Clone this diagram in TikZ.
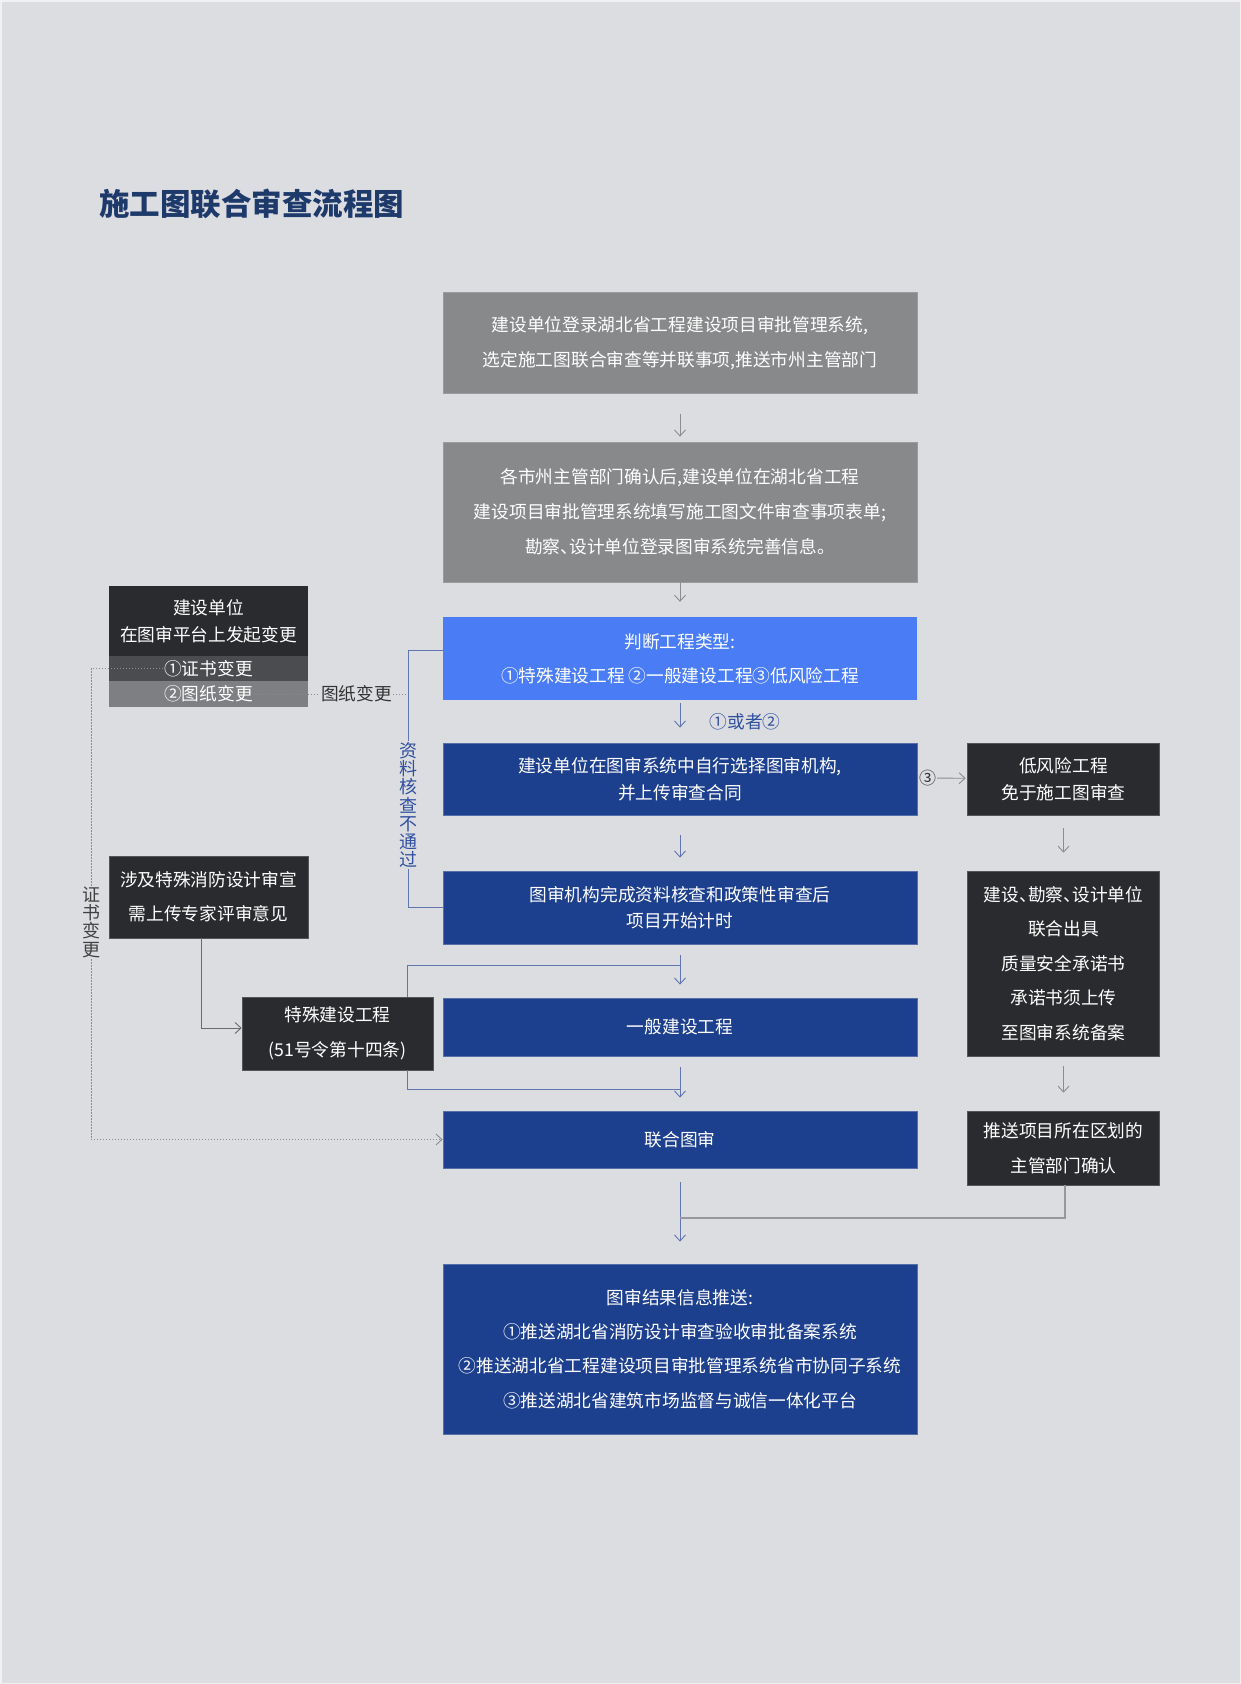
\documentclass[tikz,border=0pt]{standalone}
\usepackage{fontspec}
\setmainfont{Noto Sans CJK SC}
\newfontfamily\halfp[RawFeature=+halt]{Noto Sans CJK SC}
\newcommand{\dun}{{\halfp 、}}
\usetikzlibrary{arrows.meta}
\definecolor{bg}{HTML}{DCDDE1}
\definecolor{gbox}{HTML}{88898B}
\definecolor{lblue}{HTML}{4A7DF5}
\definecolor{navy}{HTML}{1C3F8E}
\definecolor{dbox}{HTML}{2A2B2E}
\definecolor{rowa}{HTML}{4B4C4F}
\definecolor{rowb}{HTML}{7E7F82}
\definecolor{titlec}{HTML}{1E3A6B}
\definecolor{labc}{HTML}{2F4F9F}
\definecolor{bline}{HTML}{6076AE}
\definecolor{gline}{HTML}{8C8D90}
\definecolor{dline}{HTML}{6A6B6E}
\begin{document}
\begin{tikzpicture}[x=1pt,y=-1pt,
  box/.style={rectangle, inner sep=0pt, minimum width=474pt, text=white, align=center,
    font=\fontsize{17.7}{35}\selectfont},
  gbx/.style={box, fill=gbox, draw=gbox!85!white, line width=0.8pt},
  lbx/.style={box, fill=lblue},
  nbx/.style={box, fill=navy, draw=navy!75!white, line width=0.8pt},
  dbx/.style={rectangle, inner sep=0pt, text=white, align=center, fill=dbox,
    draw=dbox!80!white, line width=0.6pt, font=\fontsize{17.7}{35}\selectfont},
  tip/.style={-{Straight Barb[length=6pt,width=11pt,line width=0.9pt]}},
  garr/.style={tip, draw=gline, line width=0.9pt},
  barr/.style={tip, draw=bline, line width=0.9pt},
  bln/.style={draw=bline, line width=0.9pt},
  gln/.style={draw=gline!90!white, line width=1.2pt},
  dotln/.style={draw=gline, line width=0.9pt, dash pattern=on 1.2pt off 1.8pt},
  vtxt/.style={fill=bg, inner sep=1pt, align=center, font=\fontsize{18}{18.3}\selectfont}
]
\useasboundingbox (0,0) rectangle (1241,1684);
\fill[bg] (0,0) rectangle (1241,1684);
\draw[draw=white!60!bg, line width=1.5pt] (0.75,0.75) rectangle (1240.25,1683.25);

% title
\node[anchor=west, text=titlec, inner sep=0pt, font=\fontsize{30.5}{34}\selectfont\bfseries] (title) at (99,204) {施工图联合审查流程图};

% main column
\node[gbx, minimum height=101pt] (b1) at (680,343) {建设单位登录湖北省工程建设项目审批管理系统,\\选定施工图联合审查等并联事项,推送市州主管部门};
\node[gbx, minimum height=140pt] (b2) at (680,512) {各市州主管部门确认后,建设单位在湖北省工程\\建设项目审批管理系统填写施工图文件审查事项表单;\\勘察\dun 设计单位登录图审系统完善信息。};
\node[lbx, minimum height=83pt, font=\fontsize{17.7}{34}\selectfont] (b3) at (680,658.5) {判断工程类型:\\①特殊建设工程 ②一般建设工程③低风险工程};
\node[nbx, minimum height=72pt, font=\fontsize{17.7}{27}\selectfont] (b4) at (680,779) {建设单位在图审系统中自行选择图审机构,\\并上传审查合同};
\node[nbx, minimum height=73pt, font=\fontsize{17.7}{26}\selectfont] (b5) at (680,907.5) {图审机构完成资料核查和政策性审查后\\项目开始计时};
\node[nbx, minimum height=58pt] (b6) at (680,1027) {一般建设工程};
\node[nbx, minimum height=57pt] (b7) at (680,1139.5) {联合图审};
\node[nbx, minimum height=170pt, font=\fontsize{17.7}{34.3}\selectfont] (b8) at (680,1349) {图审结果信息推送:\\①推送湖北省消防设计审查验收审批备案系统\\②推送湖北省工程建设项目审批管理系统省市协同子系统\\③推送湖北省建筑市场监督与诚信一体化平台};

% right column
\node[dbx, minimum width=192pt, minimum height=72pt, font=\fontsize{17.7}{27}\selectfont] (r1) at (1063.5,779) {低风险工程\\免于施工图审查};
\node[dbx, minimum width=192pt, minimum height=185pt, font=\fontsize{17.7}{34.6}\selectfont] (r2) at (1063.5,963.5) {建设\dun 勘察\dun 设计单位\\联合出具\\质量安全承诺书\\承诺书须上传\\至图审系统备案};
\node[dbx, minimum width=192pt, minimum height=74pt] (r3) at (1063.5,1148) {推送项目所在区划的\\主管部门确认};

% left column
\node[dbx, minimum width=199pt, minimum height=70pt, draw=none, font=\fontsize{17.7}{27}\selectfont] (l1) at (208.5,621) {建设单位\\在图审平台上发起变更};
\node[rectangle, fill=rowa, inner sep=0pt, minimum width=199pt, minimum height=25pt] (l1a) at (208.5,668.5) {};
\node[rectangle, fill=rowb, inner sep=0pt, minimum width=199pt, minimum height=26pt] (l1b) at (208.5,694) {};
\node[text=white, inner sep=1pt, font=\fontsize{17.7}{20}\selectfont] (t1) at (208.5,668.5) {①证书变更};
\node[text=white, inner sep=1pt, font=\fontsize{17.7}{20}\selectfont] (t2) at (208.5,694) {②图纸变更};
\node[dbx, minimum width=199pt, minimum height=82pt, font=\fontsize{17.7}{34}\selectfont] (l2) at (208.5,897) {涉及特殊消防设计审宣\\需上传专家评审意见};
\node[dbx, minimum width=191pt, minimum height=73pt] (l3) at (337.5,1033.5) {特殊建设工程\\(51号令第十四条)};

% labels
\node[text=labc, inner sep=0pt, font=\fontsize{17.7}{20}\selectfont] (lab12) at (745,722) {①或者②};
\node[text=black!80, inner sep=0pt, font=\fontsize{17}{20}\selectfont] (c3) at (927.5,778) {③};
\node[text=black!80, inner sep=1pt, font=\fontsize{17.7}{20}\selectfont] (tz) at (356.5,694) {图纸变更};

% main arrows
\draw[garr, shorten <=20pt, shorten >=5pt] (b1) -- (b2);
\draw[garr, shorten <=0pt, shorten >=15pt] (b2) -- (b3);
\draw[barr, shorten <=3pt, shorten >=15pt] (b3) -- (b4);
\draw[barr, shorten <=20pt, shorten >=13pt] (b4) -- (b5);
\draw[barr, shorten <=11pt, shorten >=13pt] (b5) -- (b6);
\draw[barr, shorten <=11pt, shorten >=13pt] (b6) -- (b7);
\draw[barr, shorten <=14pt, shorten >=22pt] (b7) -- (b8);

% right arrows
\draw[garr, shorten <=1pt, shorten >=1.5pt] (c3) -- (r1);
\draw[garr, shorten <=13pt, shorten >=18pt] (r1) -- (r2);
\draw[garr, shorten <=10pt, shorten >=18pt] (r2) -- (r3);
\coordinate (jn) at (680,1218);
\draw[gln] (r3.south -| 1065,0) |- (jn);

% reject bracket
\coordinate (kx) at (408,650);
\draw[bln] (b3.west |- kx) -- (kx) |- (b5.west);
\node[vtxt, text=labc] (nopass) at (408,805) {资\\料\\核\\查\\不\\通\\过};

% drawing change dotted
\draw[dotln] (t2.east) -- (tz.west);
\draw[dotln] (tz.east) -- (tz.east -| kx);

% certificate change dotted
\coordinate (dl) at (91,0);
\draw[dotln] (t1.west) -| (dl |- b7.west);
\draw[dotln, tip] (dl |- b7.west) -- (b7.west);
\node[vtxt, text=black!75] (cert) at (91,922) {证\\书\\变\\更};

% special project links
\draw[draw=dline, line width=0.9pt, tip] (l2.south -| 201,0) |- (l3.west |- 0,1028);
\coordinate (bx) at (407,0);
\draw[bln] (bx |- l3.north) |- (b6.north |- 0,965);
\draw[bln] (bx |- l3.south) |- (b7.north |- 0,1089);
\end{tikzpicture}
\end{document}
